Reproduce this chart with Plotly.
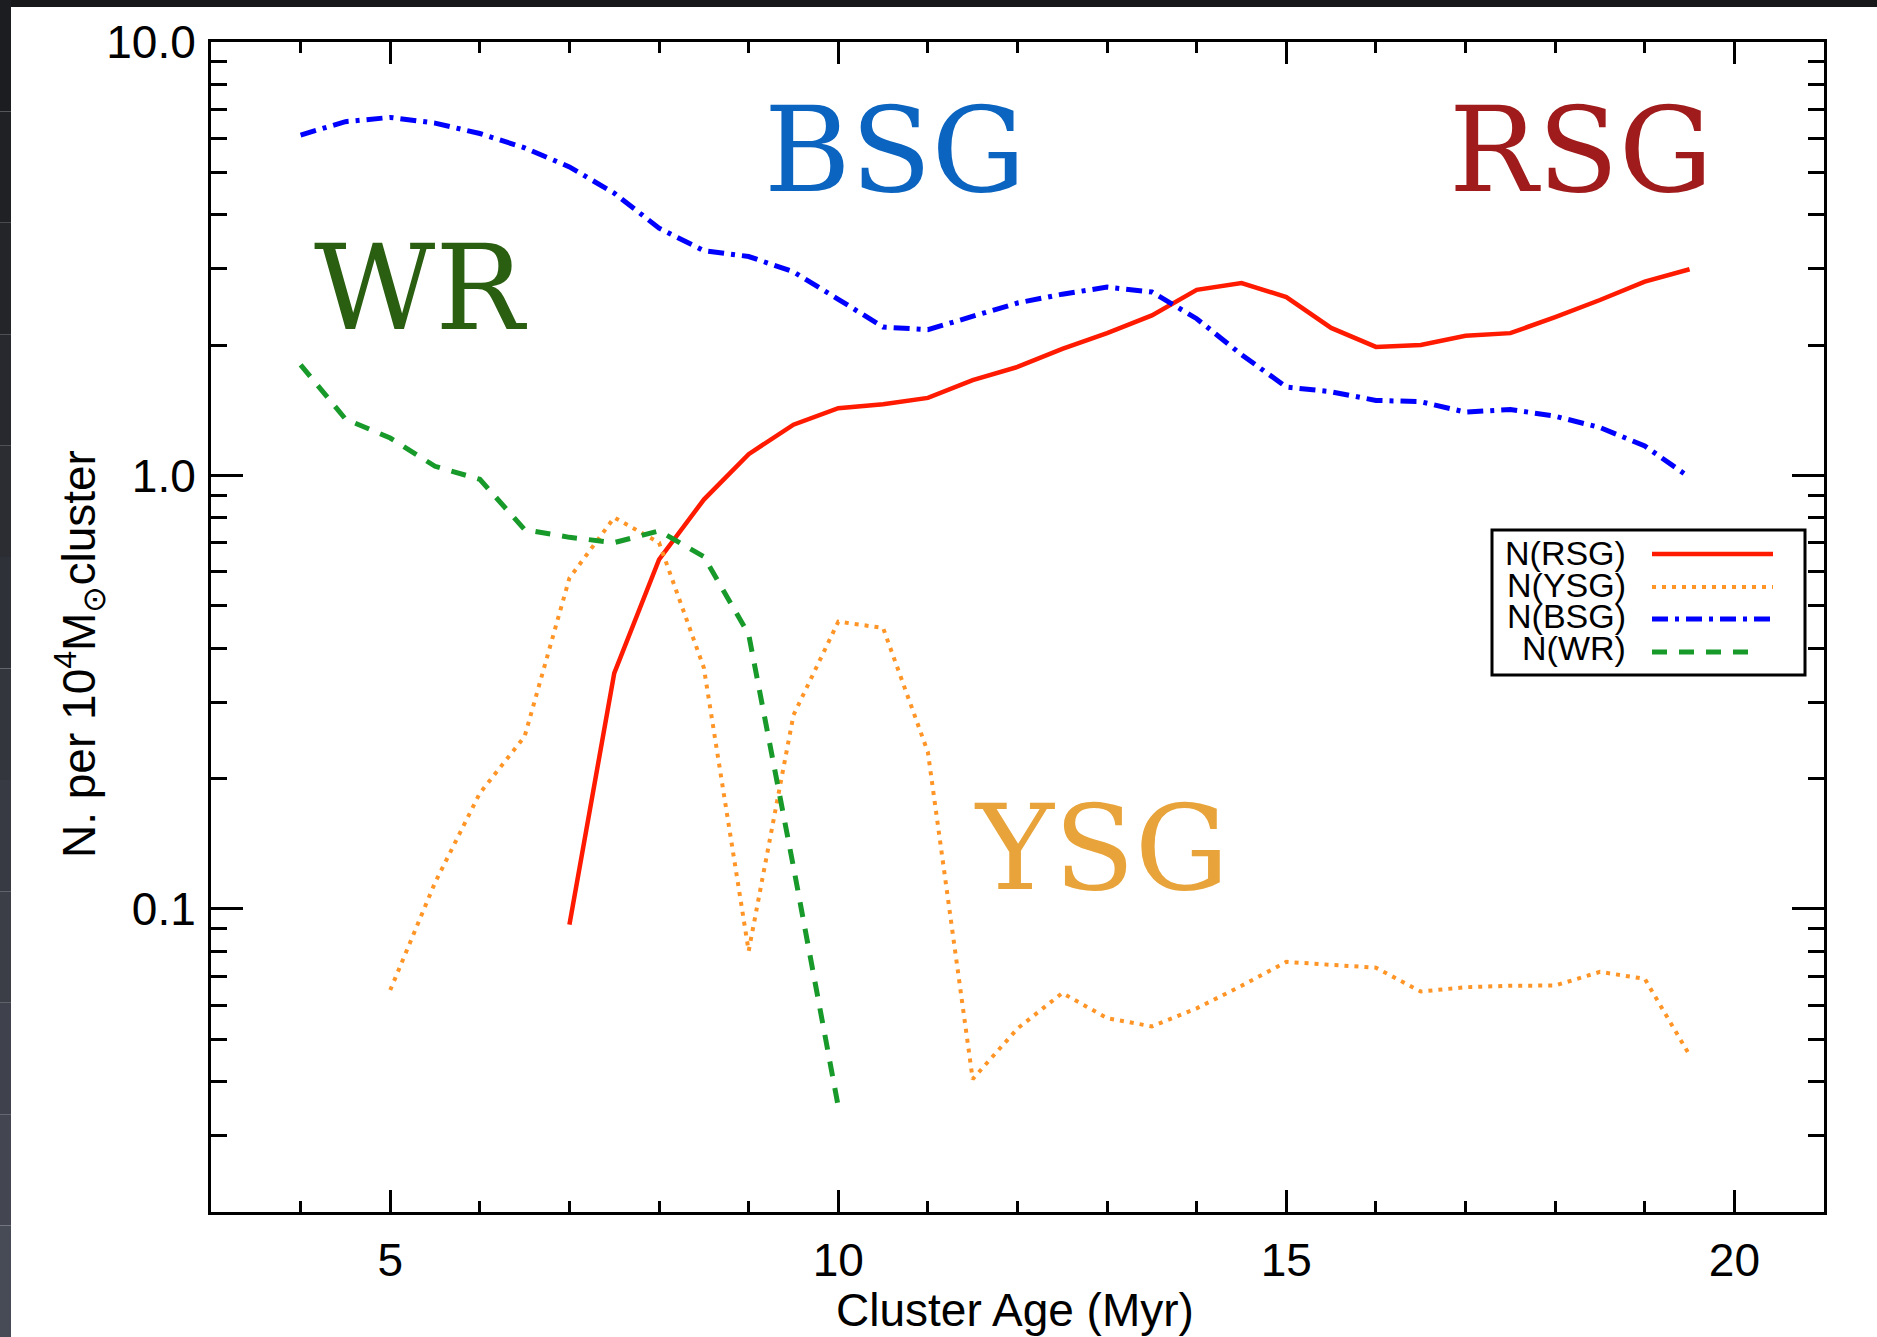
import plotly.graph_objects as go

# ---------------- data ----------------
age_bsg = [4.0, 4.5, 5.0, 5.5, 6.0, 6.5, 7.0, 7.5, 8.0, 8.5, 9.0, 9.5, 10.0, 10.5, 11.0, 11.5,
           12.0, 12.5, 13.0, 13.5, 14.0, 14.5, 15.0, 15.5, 16.0, 16.5, 17.0, 17.5, 18.0, 18.5, 19.0, 19.5]
n_bsg = [6.1, 6.55, 6.7, 6.5, 6.15, 5.7, 5.15, 4.48, 3.72, 3.3, 3.2, 2.95, 2.55, 2.2, 2.17, 2.33,
         2.5, 2.62, 2.72, 2.65, 2.3, 1.9, 1.6, 1.56, 1.49, 1.48, 1.40, 1.42, 1.37, 1.29, 1.17, 0.99]

age_rsg = [7.0, 7.5, 8.0, 8.5, 9.0, 9.5, 10.0, 10.5, 11.0, 11.5, 12.0, 12.5, 13.0, 13.5,
           14.0, 14.5, 15.0, 15.5, 16.0, 16.5, 17.0, 17.5, 18.0, 18.5, 19.0, 19.5]
n_rsg = [0.092, 0.35, 0.64, 0.88, 1.12, 1.31, 1.43, 1.46, 1.51, 1.66, 1.78, 1.96, 2.13, 2.34,
         2.68, 2.78, 2.58, 2.19, 1.98, 2.0, 2.1, 2.13, 2.32, 2.54, 2.8, 2.99]

age_ysg = [5.0, 5.5, 6.0, 6.5, 7.0, 7.5, 8.0, 8.5, 9.0, 9.5, 10.0, 10.5, 11.0, 11.5, 12.0,
           12.5, 13.0, 13.5, 14.0, 14.5, 15.0, 15.5, 16.0, 16.5, 17.0, 17.5, 18.0, 18.5, 19.0, 19.5]
n_ysg = [0.065, 0.115, 0.185, 0.25, 0.58, 0.80, 0.70, 0.36, 0.08, 0.28, 0.46, 0.445, 0.23, 0.0405, 0.053,
         0.064, 0.056, 0.0536, 0.059, 0.0665, 0.0755, 0.0745, 0.0732, 0.0645, 0.066, 0.0665, 0.0666, 0.0716, 0.069, 0.046]

age_wr = [4.0, 4.5, 5.0, 5.5, 6.0, 6.5, 7.0, 7.5, 8.0, 8.5, 9.0, 9.5, 10.0]
n_wr = [1.80, 1.35, 1.22, 1.05, 0.98, 0.75, 0.72, 0.70, 0.745, 0.65, 0.43, 0.125, 0.035]

x_ticks = [5, 10, 15, 20]
y_tickvals = [0.1, 1.0, 10.0]
y_ticktext = ["0.1", "1.0", "10.0"]
legend_labels = ["N(RSG)", "N(YSG)", "N(BSG)", "N(WR)"]
big_labels = ["BSG", "RSG", "WR", "YSG"]

# ---------------- styling ----------------
W, H = 1877, 1337
L, R, T, B = 211, 1824, 42, 1212
SANS = "Liberation Sans, Arial, Helvetica, sans-serif"
SERIF = "DejaVu Serif, serif"

c_rsg, c_ysg, c_bsg, c_wr = "#ff1a00", "#ff9526", "#0000ff", "#179a2a"
d_ysg, d_bsg, d_wr = "4px,6px", "16px,7px,4px,7px", "15px,12px"

def px(xp):
    return (xp - L) / (R - L)

def py(yp):
    return (B - yp) / (B - T)

fig = go.Figure()
fig.add_trace(go.Scatter(x=age_rsg, y=n_rsg, mode="lines", name=legend_labels[0],
                         line=dict(color=c_rsg, width=4.5)))
fig.add_trace(go.Scatter(x=age_ysg, y=n_ysg, mode="lines", name=legend_labels[1],
                         line=dict(color=c_ysg, width=4, dash=d_ysg)))
fig.add_trace(go.Scatter(x=age_bsg, y=n_bsg, mode="lines", name=legend_labels[2],
                         line=dict(color=c_bsg, width=5, dash=d_bsg)))
fig.add_trace(go.Scatter(x=age_wr, y=n_wr, mode="lines", name=legend_labels[3],
                         line=dict(color=c_wr, width=5, dash=d_wr)))

shapes = []
annotations = []

# manual legend (text left, sample line right)
shapes.append(dict(type="rect", xref="paper", yref="paper",
                   x0=px(1492), x1=px(1805), y0=py(675), y1=py(530),
                   line=dict(color="black", width=3), fillcolor="white"))
rows_line = [554, 587, 619, 652]
rows_text = [553, 585, 616, 648]
styles = [(c_rsg, "solid", 4.5, 1773), (c_ysg, d_ysg, 4, 1773),
          (c_bsg, d_bsg, 5, 1770), (c_wr, d_wr, 5, 1758)]
for lab, yl, yt, (col, dash, w, xe) in zip(legend_labels, rows_line, rows_text, styles):
    shapes.append(dict(type="line", xref="paper", yref="paper",
                       x0=px(1652), x1=px(xe), y0=py(yl), y1=py(yl),
                       line=dict(color=col, width=w, dash=dash)))
    annotations.append(dict(text=lab, xref="paper", yref="paper", x=px(1628), y=py(yt),
                            xanchor="right", yanchor="middle", showarrow=False,
                            font=dict(family=SANS, size=34, color="black")))

# big coloured labels
big_pos = [(895, 150, "#0a64c0"), (1581, 150, "#a01b1b"), (420, 288, "#2a5e10"), (1101, 848, "#e8a43a")]
for lab, (xc, yc, col) in zip(big_labels, big_pos):
    annotations.append(dict(text=lab, xref="paper", yref="paper", x=px(xc), y=py(yc),
                            xanchor="center", yanchor="middle", showarrow=False,
                            font=dict(family=SERIF, size=118, color=col)))

# axis titles
annotations.append(dict(text="N. per 10<sup>4</sup>M<sub>⊙</sub>cluster", xref="paper", yref="paper",
                        x=px(80), y=py(654), textangle=-90, xanchor="center", yanchor="middle",
                        showarrow=False, font=dict(family=SANS, size=46, color="black")))
annotations.append(dict(text="Cluster Age (Myr)", xref="paper", yref="paper",
                        x=px(1015), y=py(1310), xanchor="center", yanchor="middle",
                        showarrow=False, font=dict(family=SANS, size=46, color="black")))

# dark screen borders (top band, left band with gradient)
shapes.append(dict(type="rect", xref="paper", yref="paper", x0=px(0), x1=px(W), y0=py(7), y1=py(0),
                   line=dict(width=0), fillcolor="#17181a"))
nseg = 12
for i in range(nseg):
    y0p = i * H / nseg
    y1p = (i + 1) * H / nseg
    f = i / (nseg - 1)
    r = int(0x1c + f * (0x47 - 0x1c)); g = int(0x1d + f * (0x4b - 0x1d)); b = int(0x20 + f * (0x56 - 0x20))
    shapes.append(dict(type="rect", xref="paper", yref="paper", x0=px(0), x1=px(11),
                       y0=py(y1p), y1=py(y0p), line=dict(width=0),
                       fillcolor="#%02x%02x%02x" % (r, g, b)))

minor_y = [m * 10 ** e for e in (-2, -1, 0) for m in range(2, 10)]

fig.update_layout(
    width=W, height=H,
    margin=dict(l=L, r=W - R, t=T, b=H - B),
    paper_bgcolor="white", plot_bgcolor="white",
    showlegend=False,
    shapes=shapes, annotations=annotations,
    xaxis=dict(range=[3, 21], tickmode="array", tickvals=x_ticks,
               ticks="inside", ticklen=22, tickwidth=3, tickcolor="black",
               showline=True, linewidth=3, linecolor="black", mirror="allticks",
               showgrid=False, zeroline=False,
               minor=dict(ticks="inside", ticklen=11, tickwidth=3, tickcolor="black", dtick=1, tick0=0, showgrid=False),
               tickfont=dict(family=SANS, size=46, color="black"), ticklabelstandoff=6),
    yaxis=dict(type="log", range=[-1.699, 1.0], tickmode="array", tickvals=y_tickvals, ticktext=y_ticktext,
               ticks="inside", ticklen=32, tickwidth=3, tickcolor="black",
               showline=True, linewidth=3, linecolor="black", mirror="allticks",
               showgrid=False, zeroline=False,
               minor=dict(ticks="inside", ticklen=16, tickwidth=3, tickcolor="black",
                          tickmode="array", tickvals=minor_y, showgrid=False),
               tickfont=dict(family=SANS, size=46, color="black"), ticklabelstandoff=3),
)

fig.write_html("out.html", config={"displayModeBar": False},
               post_script="document.body.style.margin='0';document.body.style.overflow='hidden';")
